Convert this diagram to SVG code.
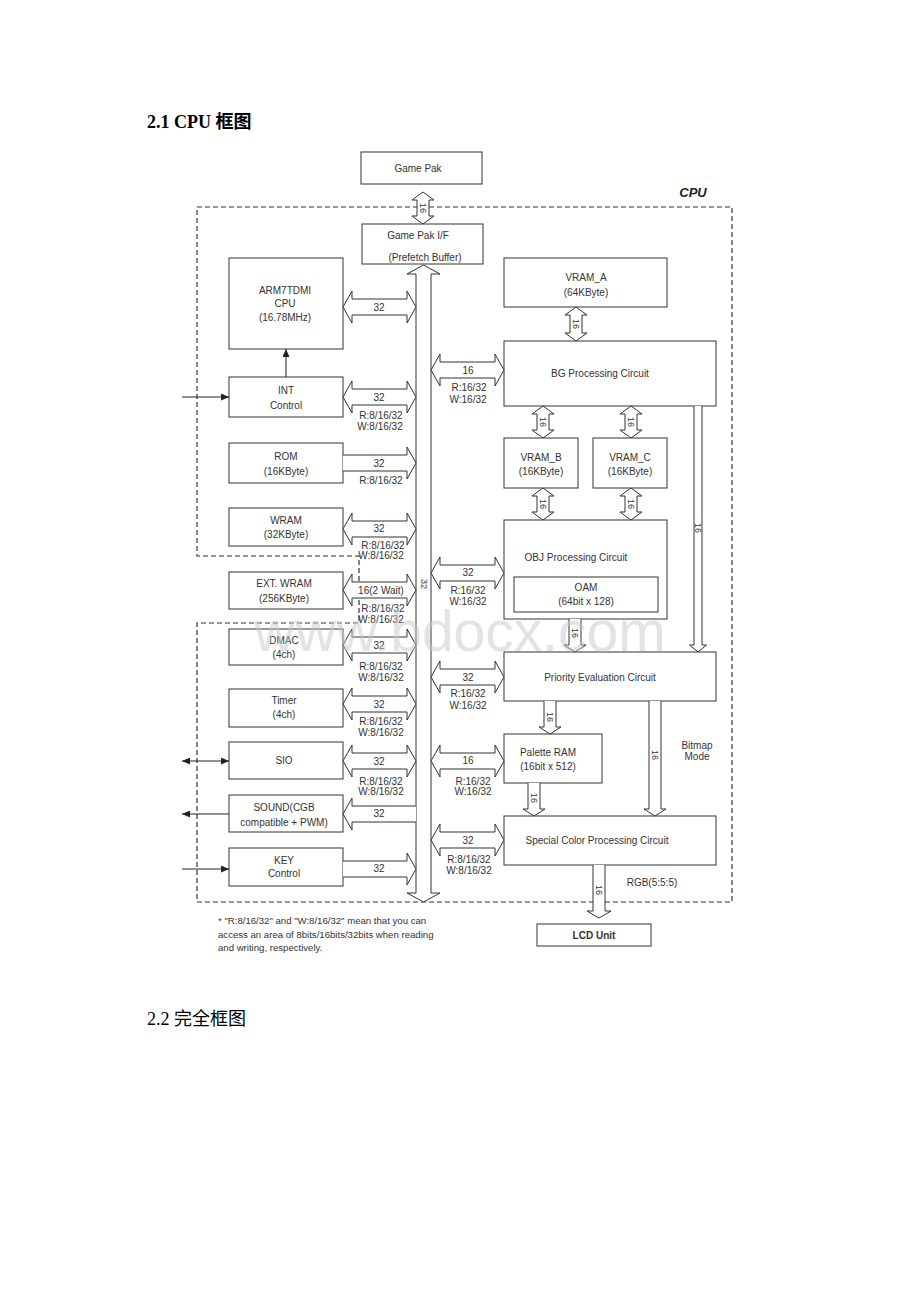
<svg xmlns="http://www.w3.org/2000/svg" width="920" height="1302" viewBox="0 0 920 1302">
<style>
.box{fill:#fff;stroke:#333;stroke-width:1}
.arr{fill:#fff;stroke:#333;stroke-width:1;stroke-linejoin:miter}
.ln{fill:none;stroke:#222;stroke-width:1}
.t{font-family:"Liberation Sans",Arial,sans-serif;font-size:10px;fill:#333;text-anchor:middle;dominant-baseline:central}
.r{font-family:"Liberation Sans",Arial,sans-serif;font-size:9px;fill:#333;text-anchor:middle;dominant-baseline:central}
.h{font-family:"Liberation Serif","Noto Sans CJK SC",serif;font-size:18px;fill:#000}
</style>
<defs>
<marker id="ah" markerWidth="8" markerHeight="7" refX="8" refY="3.5" orient="auto-start-reverse" markerUnits="userSpaceOnUse">
<path d="M0,0 L8,3.5 L0,7 Z" fill="#222"/>
</marker>
</defs>
<rect width="920" height="1302" fill="#fff"/>

<text class="h" x="147" y="128" font-weight="bold">2.1 CPU 框图</text>
<text class="h" x="147" y="1025">2.2 完全框图</text>

<g id="cpu-boundary">
<path d="M197 207 H732 V902 H197 V623 H359 V556 H197 Z" fill="none" stroke="#333" stroke-width="1.2" stroke-dasharray="5,3"/>
<text x="693" y="197" font-family="Liberation Sans,Arial,sans-serif" font-size="13" font-weight="bold" font-style="italic" fill="#222" text-anchor="middle">CPU</text>
</g>

<g id="gamepak"><rect class="box" x="361" y="152" width="121" height="32"/><text class="t" x="418" y="168">Game Pak</text></g>
<g id="gamepak-if"><rect class="box" x="362" y="224" width="121" height="40"/><text class="t" x="418" y="235">Game Pak I/F</text><text class="t" x="425" y="257">(Prefetch Buffer)</text></g>

<g id="arm"><rect class="box" x="229" y="258" width="114" height="91"/><text class="t" x="285" y="290">ARM7TDMI</text><text class="t" x="285" y="303">CPU</text><text class="t" x="285" y="317">(16.78MHz)</text></g>
<g id="int"><rect class="box" x="229" y="377" width="114" height="40"/><text class="t" x="286" y="390">INT</text><text class="t" x="286" y="405">Control</text></g>
<g id="rom"><rect class="box" x="229" y="443" width="114" height="40"/><text class="t" x="286" y="456">ROM</text><text class="t" x="286" y="471">(16KByte)</text></g>
<g id="wram"><rect class="box" x="229" y="508" width="114" height="38"/><text class="t" x="286" y="520">WRAM</text><text class="t" x="286" y="534">(32KByte)</text></g>
<g id="extwram"><rect class="box" x="229" y="572" width="114" height="37"/><text class="t" x="284" y="583">EXT. WRAM</text><text class="t" x="284" y="598">(256KByte)</text></g>
<g id="dmac"><rect class="box" x="229" y="629" width="114" height="36"/><text class="t" x="284" y="640">DMAC</text><text class="t" x="284" y="654">(4ch)</text></g>
<g id="timer"><rect class="box" x="229" y="689" width="114" height="38"/><text class="t" x="284" y="700">Timer</text><text class="t" x="284" y="714">(4ch)</text></g>
<g id="sio"><rect class="box" x="229" y="742" width="114" height="37"/><text class="t" x="284" y="760">SIO</text></g>
<g id="sound"><rect class="box" x="229" y="795" width="114" height="37"/><text class="t" x="284" y="807">SOUND(CGB</text><text class="t" x="284" y="822">compatible + PWM)</text></g>
<g id="key"><rect class="box" x="229" y="848" width="114" height="38"/><text class="t" x="284" y="860">KEY</text><text class="t" x="284" y="873">Control</text></g>

<g id="vram-a"><rect class="box" x="504" y="258" width="163" height="49"/><text class="t" x="586" y="277">VRAM_A</text><text class="t" x="586" y="292">(64KByte)</text></g>
<g id="bg"><rect class="box" x="504" y="341" width="212" height="65"/><text class="t" x="600" y="373">BG Processing Circuit</text></g>
<g id="vram-b"><rect class="box" x="504" y="438" width="74" height="50"/><text class="t" x="541" y="457">VRAM_B</text><text class="t" x="541" y="471">(16KByte)</text></g>
<g id="vram-c"><rect class="box" x="593" y="438" width="74" height="50"/><text class="t" x="630" y="457">VRAM_C</text><text class="t" x="630" y="471">(16KByte)</text></g>
<g id="obj"><rect class="box" x="504" y="520" width="163" height="99"/><text class="t" x="576" y="557">OBJ Processing Circuit</text>
<rect class="box" x="514" y="577" width="144" height="35"/><text class="t" x="586" y="587">OAM</text><text class="t" x="586" y="601">(64bit x 128)</text></g>
<g id="priority"><rect class="box" x="504" y="652" width="212" height="49"/><text class="t" x="600" y="677">Priority Evaluation Circuit</text></g>
<g id="palette"><rect class="box" x="504" y="734" width="98" height="49"/><text class="t" x="548" y="752">Palette RAM</text><text class="t" x="548" y="766">(16bit x 512)</text></g>
<g id="special"><rect class="box" x="504" y="816" width="212" height="49"/><text class="t" x="597" y="840">Special Color Processing Circuit</text></g>
<g id="lcd"><rect class="box" x="537" y="924" width="114" height="22"/><text class="t" x="594" y="935" font-weight="bold" font-size="11">LCD Unit</text></g>

<g id="connectors">
<!-- main bus -->
<path class="arr" d="M423.5 265 L440 274 L431 274 L431 893 L440 893 L423.5 902 L407 893 L416 893 L416 274 L407 274 Z"/>
<text class="r" transform="rotate(90 423.5 584)" x="423.5" y="584">32</text>
<!-- game pak -->
<path class="arr" d="M423 192 L434 200 L429 200 L429 216 L434 216 L423 224 L412 216 L417 216 L417 200 L412 200 Z"/>
<text class="r" transform="rotate(90 423 208)" x="423" y="208">16</text>
<!-- left side -->
<path class="arr" d="M343 307 L352 291 L352 299 L407 299 L407 291 L416 307 L407 323 L407 315 L352 315 L352 323 Z"/>
<text class="t" x="379" y="307">32</text>
<path class="arr" d="M343 397 L352 381 L352 389 L407 389 L407 381 L416 397 L407 413 L407 405 L352 405 L352 413 Z"/>
<text class="t" x="379" y="397">32</text><text class="t" x="381" y="415">R:8/16/32</text><text class="t" x="380" y="426">W:8/16/32</text>
<path class="arr" d="M343 455 L407 455 L407 447 L416 463 L407 479 L407 471 L343 471"/>
<text class="t" x="379" y="463">32</text><text class="t" x="381" y="480">R:8/16/32</text>
<path class="arr" d="M343 529 L352 513 L352 521 L407 521 L407 513 L416 529 L407 545 L407 537 L352 537 L352 545 Z"/>
<text class="t" x="379" y="528">32</text><text class="t" x="383" y="545">R:8/16/32</text><text class="t" x="381" y="555">W:8/16/32</text>
<path class="arr" d="M343 590 L352 574 L352 582 L407 582 L407 574 L416 590 L407 606 L407 598 L352 598 L352 606 Z"/>
<text class="t" x="381" y="590">16(2 Wait)</text><text class="t" x="383" y="608">R:8/16/32</text><text class="t" x="381" y="619">W:8/16/32</text>
<path class="arr" d="M343 645 L352 629 L352 637 L407 637 L407 629 L416 645 L407 661 L407 653 L352 653 L352 661 Z"/>
<text class="t" x="379" y="645">32</text><text class="t" x="381" y="666">R:8/16/32</text><text class="t" x="381" y="677">W:8/16/32</text>
<path class="arr" d="M343 704 L352 688 L352 696 L407 696 L407 688 L416 704 L407 720 L407 712 L352 712 L352 720 Z"/>
<text class="t" x="379" y="704">32</text><text class="t" x="381" y="721">R:8/16/32</text><text class="t" x="381" y="732">W:8/16/32</text>
<path class="arr" d="M343 761 L352 745 L352 753 L407 753 L407 745 L416 761 L407 777 L407 769 L352 769 L352 777 Z"/>
<text class="t" x="379" y="761">32</text><text class="t" x="381" y="781">R:8/16/32</text><text class="t" x="381" y="791">W:8/16/32</text>
<path class="arr" d="M416 806 L352 806 L352 798 L343 814 L352 830 L352 822 L416 822"/>
<text class="t" x="379" y="813">32</text>
<path class="arr" d="M343 861 L407 861 L407 853 L416 869 L407 885 L407 877 L343 877"/>
<text class="t" x="379" y="868">32</text>
<!-- external lines -->
<line class="ln" x1="182" y1="397" x2="229" y2="397" marker-end="url(#ah)"/>
<line class="ln" x1="286" y1="377" x2="286" y2="349" marker-end="url(#ah)"/>
<line class="ln" x1="182" y1="761" x2="229" y2="761" marker-start="url(#ah)" marker-end="url(#ah)"/>
<line class="ln" x1="229" y1="814" x2="182" y2="814" marker-end="url(#ah)"/>
<line class="ln" x1="182" y1="869" x2="229" y2="869" marker-end="url(#ah)"/>
<!-- right side -->
<path class="arr" d="M431 370 L440 354 L440 362 L495 362 L495 354 L504 370 L495 386 L495 378 L440 378 L440 386 Z"/>
<text class="t" x="468" y="370">16</text><text class="t" x="469" y="387">R:16/32</text><text class="t" x="468" y="399">W:16/32</text>
<path class="arr" d="M431 573 L440 557 L440 565 L495 565 L495 557 L504 573 L495 589 L495 581 L440 581 L440 589 Z"/>
<text class="t" x="468" y="572">32</text><text class="t" x="468" y="590">R:16/32</text><text class="t" x="468" y="601">W:16/32</text>
<path class="arr" d="M431 677 L440 661 L440 669 L495 669 L495 661 L504 677 L495 693 L495 685 L440 685 L440 693 Z"/>
<text class="t" x="468" y="677">32</text><text class="t" x="468" y="693">R:16/32</text><text class="t" x="468" y="705">W:16/32</text>
<path class="arr" d="M431 761 L440 745 L440 753 L495 753 L495 745 L504 761 L495 777 L495 769 L440 769 L440 777 Z"/>
<text class="t" x="468" y="760">16</text><text class="t" x="473" y="781">R:16/32</text><text class="t" x="473" y="791">W:16/32</text>
<path class="arr" d="M431 840 L440 824 L440 832 L495 832 L495 824 L504 840 L495 856 L495 848 L440 848 L440 856 Z"/>
<text class="t" x="468" y="840">32</text><text class="t" x="469" y="859">R:8/16/32</text><text class="t" x="469" y="870">W:8/16/32</text>
<!-- video pipeline -->
<path class="arr" d="M576 307 L587 315 L582 315 L582 333 L587 333 L576 341 L565 333 L570 333 L570 315 L565 315 Z"/>
<text class="r" transform="rotate(90 576 324)" x="576" y="324">16</text>
<path class="arr" d="M543 406 L554 414 L549 414 L549 430 L554 430 L543 438 L532 430 L537 430 L537 414 L532 414 Z"/>
<text class="r" transform="rotate(90 543 422)" x="543" y="422">16</text>
<path class="arr" d="M631 406 L642 414 L637 414 L637 430 L642 430 L631 438 L620 430 L625 430 L625 414 L620 414 Z"/>
<text class="r" transform="rotate(90 631 422)" x="631" y="422">16</text>
<path class="arr" d="M543 488 L554 496 L549 496 L549 512 L554 512 L543 520 L532 512 L537 512 L537 496 L532 496 Z"/>
<text class="r" transform="rotate(90 543 504)" x="543" y="504">16</text>
<path class="arr" d="M631 488 L642 496 L637 496 L637 512 L642 512 L631 520 L620 512 L625 512 L625 496 L620 496 Z"/>
<text class="r" transform="rotate(90 631 504)" x="631" y="504">16</text>
<path class="arr" d="M569 619 L569 645 L564 645 L575 652 L586 645 L581 645 L581 619"/>
<text class="r" transform="rotate(90 575 633)" x="575" y="633">16</text>
<path class="arr" d="M694 406 L694 645 L689.5 645 L698 652 L706.5 645 L702 645 L702 406"/>
<text class="r" transform="rotate(90 698 528)" x="698" y="528">16</text>
<path class="arr" d="M544 701 L544 727 L539 727 L550 734 L561 727 L556 727 L556 701"/>
<text class="r" transform="rotate(90 550 717)" x="550" y="717">16</text>
<path class="arr" d="M649 701 L649 809 L644 809 L655 816 L666 809 L661 809 L661 701"/>
<text class="r" transform="rotate(90 655 755)" x="655" y="755">16</text>
<path class="arr" d="M528 783 L528 809 L523 809 L534 816 L545 809 L540 809 L540 783"/>
<text class="r" transform="rotate(90 534 798)" x="534" y="798">16</text>
<path class="arr" d="M593 865 L593 911 L587 911 L599 918 L611 911 L605 911 L605 865"/>
<text class="r" transform="rotate(90 599 890)" x="599" y="890">16</text>
<text class="t" x="697" y="745">Bitmap</text><text class="t" x="697" y="756">Mode</text>
<text class="t" x="652" y="882">RGB(5:5:5)</text>
</g>

<g id="footnote" font-family="Liberation Sans,Arial,sans-serif" font-size="9.6" fill="#333">
<text x="218" y="924">* "R:8/16/32" and "W:8/16/32" mean that you can</text>
<text x="218" y="938">access an area of 8bits/16bits/32bits when reading</text>
<text x="218" y="951">and writing, respectively.</text>
</g>

<text x="254" y="651" font-family="Liberation Sans,Arial,sans-serif" font-size="57" fill="#c8c8c8" opacity="0.5">www.bdocx.com</text>
</svg>
